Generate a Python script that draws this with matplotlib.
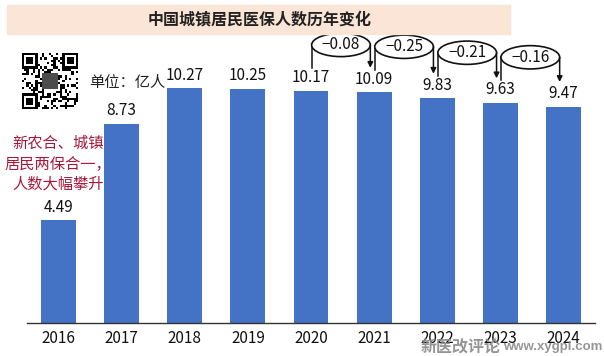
import numpy as np
import matplotlib
matplotlib.use('Agg')
import matplotlib.pyplot as plt
from matplotlib.patches import Ellipse, Rectangle

plt.rcParams['font.family'] = ['Noto Sans CJK SC', 'DejaVu Sans']

years = ['2016', '2017', '2018', '2019', '2020', '2021', '2022', '2023', '2024']
members = [4.49, 8.73, 10.27, 10.25, 10.17, 10.09, 9.83, 9.63, 9.47]
# year-on-year drop shown in the bubbles (2020->2021 ... 2023->2024)
diff_start = [4, 5, 6, 7]
diff_labels = ['−0.08', '−0.25', '−0.21', '−0.16']

title = '中国城镇居民医保人数历年变化'
unit = '单位：亿人'
note = '新农合、城镇\n居民两保合一，\n人数大幅攀升'
wm_cn = '新医改评论'
wm_url = 'www.xygpl.com'

W, H = 604, 356
fig = plt.figure(figsize=(W / 100, H / 100), dpi=100)

# title banner
fig.patches.append(Rectangle((7 / W, 1 - 34 / H), 503 / W, 29 / H,
                             transform=fig.transFigure, color='#fbe5d6', zorder=0))
fig.text(260 / W, 1 - 19.5 / H, title, ha='center', va='center',
         fontsize=11.5, fontweight='bold', color='#222222')

ax = fig.add_axes([27 / W, 33 / H, 568 / W, 297 / H])
x = np.arange(len(years))
ax.bar(x, members, width=0.553, color='#4472c4', zorder=2)
for xi, v in zip(x, members):
    ax.text(xi, v + 0.2, f'{v:.2f}', ha='center', va='bottom', fontsize=11,
            color='#111111')

ax.set_xlim(-0.5, 8.5)
ax.set_ylim(0, 13)
ax.set_xticks(x)
ax.set_xticklabels(years, fontsize=11, color='#111111')
ax.tick_params(axis='x', length=0, pad=5)
ax.set_yticks([])
for s in ('left', 'right', 'top'):
    ax.spines[s].set_visible(False)
ax.spines['bottom'].set_color('#333333')
ax.spines['bottom'].set_linewidth(1.0)

# difference bubbles with connectors
for i, lab in zip(diff_start, diff_labels):
    v0, v1 = members[i], members[i + 1]
    cy = v0 + 2.0
    x0 = i + 0.01
    x1 = i + 0.94
    ax.add_patch(Ellipse(((x0 + x1) / 2, cy), x1 - x0, 1.02, facecolor='white',
                         edgecolor='#111111', lw=1.2, zorder=3, clip_on=False))
    ax.text((x0 + x1) / 2, cy, lab, ha='center', va='center', fontsize=11,
            zorder=4, color='#111111')
    ax.plot([x0, x0], [v0 + 1.0, cy], color='#111111', lw=1.1, clip_on=False)
    ax.annotate('', xy=(x1, v1 + 1.08), xytext=(x1, cy),
                arrowprops=dict(arrowstyle='-|>', color='#111111', lw=1.1,
                                mutation_scale=8, shrinkA=0, shrinkB=0),
                annotation_clip=False)

# unit and red note
fig.text(89 / W, 1 - 83 / H, unit, ha='left', va='center', fontsize=11,
         color='#222222')
fig.text(58 / W, 1 - 164 / H, note, ha='center', va='center', fontsize=11,
         color='#a8173a', linespacing=1.25)

# QR-code-like block
qax = fig.add_axes([22 / W, 1 - 109 / H, 56 / W, 56 / H])
n = 25
ii, jj = np.meshgrid(np.arange(n), np.arange(n), indexing='ij')
qr = (((ii * 7 + jj * 13) ^ (ii * jj)) % 3 == 0).astype(float)
for r0, c0 in [(0, 0), (0, n - 7), (n - 7, 0)]:
    qr[r0:r0 + 7, c0:c0 + 7] = 1
    qr[r0 + 1:r0 + 6, c0 + 1:c0 + 6] = 0
    qr[r0 + 2:r0 + 5, c0 + 2:c0 + 5] = 1
qr[9:16, 9:16] = 0.7
qax.imshow(1 - qr, cmap='gray', vmin=0, vmax=1, interpolation='nearest')
qax.axis('off')

# watermark
fig.text(501 / W, 1 - 347 / H, wm_cn, ha='right', va='center', fontsize=11.5,
         fontweight='bold', color='#8a8a8a', alpha=0.9)
fig.text(503 / W, 1 - 347 / H, wm_url, ha='left', va='center', fontsize=9.5,
         fontweight='bold', color='#8a8a8a', alpha=0.9,
         family=['Liberation Sans', 'DejaVu Sans'])

fig.savefig('out.png', dpi=100)
